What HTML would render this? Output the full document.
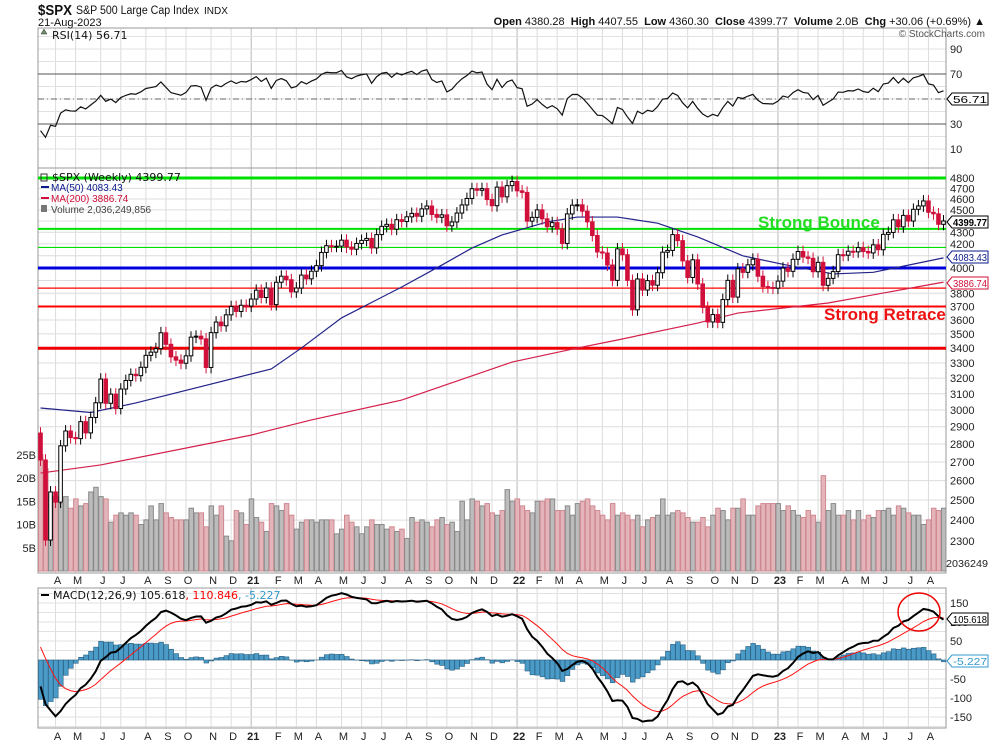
<!DOCTYPE html>
<html><head><meta charset="utf-8"><style>
html,body{margin:0;padding:0;background:#fff;}
svg{display:block;font-family:"Liberation Sans",sans-serif;}
</style></head><body>
<svg id="c" width="990" height="744" viewBox="0 0 990 744"></svg>
<script>
// ---- data ----
const firstOpen = 2863;
const closes = [2711,2305,2541,2489,2790,2875,2837,2831,2930,2864,
2955,3044,3194,3041,3098,3009,3130,3185,3225,3216,
3271,3351,3373,3397,3508,3427,3341,3319,3298,3348,
3477,3484,3465,3270,3509,3585,3558,3638,3699,3663,
3709,3703,3756,
3824,3768,3841,3714,3886,3934,3906,3811,3841,3943,
3913,3974,4019,4128,4185,4180,4181,4232,4173,4155,
4204,4230,4247,4166,4280,4352,4370,4327,4411,4395,
4437,4468,4442,4509,4535,4458,4433,4455,4357,4391,
4471,4545,4605,4697,4682,4698,4595,4538,4712,4620,
4726,4766,
4677,4662,4398,4432,4500,4419,4349,4385,4329,4204,
4463,4543,4546,4488,4392,4272,4132,4123,4024,3901,
4158,4109,3901,3675,3912,3825,3899,3863,3962,4130,
4145,4280,4228,4058,3924,4067,3873,3693,3586,3640,
3583,3752,3901,3771,3993,3965,4026,4072,3934,3852,
3845,3840,
3895,3999,3973,4071,4136,4090,4079,3970,4046,3862,
3917,3971,4109,4105,4138,4133,4169,4136,4124,4192,
4151,4282,4299,4410,4348,4450,4399,4505,4536,4582,
4478,4464,4370,4400];
const volumes = [25,22,16,16,14.5,16,13.5,15.5,14,14.5,
17,18,16,15.5,10.5,12,12.5,12,12.5,12,
10,11,14,11,14.5,12.5,11.5,11,11,11,
13.5,12.5,12.5,9.5,14,12,14,7.5,6.5,13,
12.5,10,15.5,11.5,10.5,8.5,14.5,14,13,14.5,
12,9,10.5,11,11,10.5,11,11,11,8,
9,12,10.5,9.5,8,9.5,11,10,10,9,
9.5,8.5,9,7,11.5,10.5,11,10.5,9.5,11,
11.5,10,10.5,8.5,15,11,15.5,15,14,14.5,
12.5,12,13,17.5,15,15.5,14,13,12.5,15,
15,15.5,15.5,13,13,14,12,14.5,15,15.5,
14,13,12,11,14.5,12,12.5,12,11,12,
9.5,11,11.5,12,15.5,12,12.5,13,12.5,11.5,
10.5,10.5,11.5,9.5,12,13.5,13,11,13.5,13.5,
15.5,12,12,14,14.5,14.5,14.5,14.5,13,14,
13,12,11.5,13,12,10.5,20.5,13,14.5,12,
12,13,11,13,11,12,11.5,13,13,13.5,
12,14,13.5,12.5,12,12,10,11,13.5,13,
13.5];
const ma50Weeks = [0,10,19,46,52,60,72,80,86,92,101,107,115,123,131,140,148,158,166,180];
const ma50Vals  = [3012,2985,3043,3260,3401,3615,3849,4024,4165,4277,4391,4435,4435,4380,4260,4100,4030,3952,3965,4083];
const ma200Weeks = [0,12,42,46,54,72,94,107,115,131,139,157,180];
const ma200Vals  = [2640,2684,2851,2881,2940,3061,3306,3401,3457,3578,3651,3726,3887];
const priceTicks = [4800,4700,4600,4500,4400,4300,4200,4100,4000,3900,3800,3700,3600,3500,3400,3300,3200,3100,3000,2900,2800,2700,2600,2500,2400,2300];
const levelPrices = [4800,4330,4170,4000,3840,3700,3400];
const rsiTicks = [90,70,30,10];
const macdTicks = [150,100,50,-50,-100,-150];
const volTicks = [25,20,15,10,5];

// ---- geometry ----
const S = document.getElementById('c');
const NS = 'http://www.w3.org/2000/svg';
const L = 38, R = 946, N = closes.length, STEP = (R - L) / N;
const X = i => L + (i + 0.5) * STEP;
const PY = p => 178 + 493.6 * Math.log(4800 / p);
const RY = v => 99 - (v - 50) * 1.25;
const MY = v => 660 - v * 0.38;
const VY = v => 571 - v * 4.65;
function mk(tag, attrs, parent) {
  const e = document.createElementNS(NS, tag);
  for (const k in attrs) e.setAttribute(k, attrs[k]);
  (parent || S).appendChild(e);
  return e;
}
function txt(x, y, s, attrs, parent) {
  const t = mk('text', Object.assign({x: x, y: y}, attrs || {}), parent);
  t.textContent = s;
  return t;
}

const panels = [[28,168],[168,573],[588,728]];
const defs = mk('defs', {});
[['cr',28,140],['cp',168,405],['cm',588,140]].forEach(a => {
  const cp = mk('clipPath', {id: a[0]}, defs);
  mk('rect', {x: L, y: a[1], width: R - L, height: a[2]}, cp);
});

// ---- vertical month grid ----
const monthLetters = ['J','F','M','A','M','J','J','A','S','O','N','D'];
const start = new Date(2020, 2, 13);
let prevM = start.getMonth();
const gGrid = mk('g', {});


for (let i = 1; i < N; i++) {
  const d = new Date(start.getTime() + i * 7 * 86400000);
  const m = d.getMonth();
  if (m !== prevM) {
    const x = X(i);
    const yr = m === 0;
    const col = yr ? '#b8b8b8' : '#dcdcdc';
    mk('line', {x1: x, y1: 28, x2: x, y2: 573, stroke: col, 'stroke-width': 1}, gGrid);
    mk('line', {x1: x, y1: 588, x2: x, y2: 728, stroke: col, 'stroke-width': 1}, gGrid);
    const lab = yr ? String(d.getFullYear()).slice(2) : monthLetters[m];
    const a = {'font-size': 11, 'text-anchor': 'middle', fill: '#222'};
    if (yr) a['font-weight'] = 'bold';
    const t1 = txt(x + 2, 584, lab, a);
    
    
    const t2 = txt(x + 2, 740, lab, a);
    
    
  }
  prevM = m;
}

for (let v = 10; v <= 100; v += 10) {
  if (RY(v) > 29 && RY(v) < 167) mk('line', {x1: L, y1: RY(v), x2: R, y2: RY(v), stroke: '#e2e2e2'}, gGrid);
}
priceTicks.forEach(p => mk('line', {x1: L, y1: PY(p), x2: R, y2: PY(p), stroke: '#dcdcdc'}, gGrid));
for (let v = -175; v <= 175; v += 25) {
  if (MY(v) > 589 && MY(v) < 727) mk('line', {x1: L, y1: MY(v), x2: R, y2: MY(v), stroke: '#e2e2e2'}, gGrid);
}

panels.forEach(p => {
  const r = mk('rect', {x: L, y: p[0], width: R - L, height: p[1] - p[0], fill: 'none', stroke: '#999', 'stroke-width': 1});
  
  
});
mk('line', {x1: L, y1: 573, x2: R, y2: 573, stroke: '#999', 'stroke-dasharray': '1,2'});

// ---- RSI ----
const gR = mk('g', {'clip-path': 'url(#cr)'});


mk('line', {x1: L, y1: RY(70), x2: R, y2: RY(70), stroke: '#555'}, gR);
mk('line', {x1: L, y1: RY(30), x2: R, y2: RY(30), stroke: '#555'}, gR);
mk('line', {x1: L, y1: RY(50), x2: R, y2: RY(50), stroke: '#666', 'stroke-dasharray': '6,3,1,3'}, gR);
let ag = 30, al = 80, prev = firstOpen;
const rsi = [];
closes.forEach(c => {
  const ch = c - prev; prev = c;
  ag = (ag * 13 + Math.max(ch, 0)) / 14;
  al = (al * 13 + Math.max(-ch, 0)) / 14;
  rsi.push(100 - 100 / (1 + ag / al));
});
const rp = mk('polyline', {points: rsi.map((v, i) => X(i) + ',' + RY(v)).join(' '), fill: 'none', stroke: '#111', 'stroke-width': 1.2}, gR);


const rl = txt(52, 39, 'RSI(14) 56.71', {'font-size': 11, 'font-family': 'DejaVu Sans, sans-serif', fill: '#111'});


mk('path', {d: 'M41 34 l3 -5 l3 5 z', fill: '#6b8f6b', stroke: '#333', 'stroke-width': 0.5});
rsiTicks.forEach(v => {
  const t = txt(950, RY(v) + 4, String(v), {'font-size': 11, fill: '#222'});
  
  
});

// ---- price panel ----
const gP = mk('g', {'clip-path': 'url(#cp)'});


volumes.forEach((v, i) => {
  const c = closes[i], pc = i ? closes[i - 1] : firstOpen;
  const down = c < pc;
  const b = mk('rect', {x: X(i) - STEP / 2 + 0.5, y: VY(v), width: STEP - 0.5, height: 571 - VY(v),
    fill: down ? '#e3b5bb' : '#bcbcbc', stroke: down ? '#d08890' : '#8a8a8a', 'stroke-width': 1}, gP);
  
  
});
const levelStyle = [['#00e000',3],['#00e000',2],['#00e000',1.2],['#0000dd',3],['#ff0000',1.2],['#ff0000',2],['#ee0000',3]];
levelPrices.forEach((p, k) => {
  const l = mk('line', {x1: L, y1: PY(p), x2: R, y2: PY(p), stroke: levelStyle[k][0], 'stroke-width': levelStyle[k][1]}, gP);
  
  
});
const ma50 = mk('polyline', {points: ma50Weeks.map((w, k) => X(w) + ',' + PY(ma50Vals[k])).join(' '), fill: 'none', stroke: '#22238a', 'stroke-width': 1.2}, gP);


const ma200 = mk('polyline', {points: ma200Weeks.map((w, k) => X(w) + ',' + PY(ma200Vals[k])).join(' '), fill: 'none', stroke: '#d4204a', 'stroke-width': 1.2}, gP);


closes.forEach((c, i) => {
  const o = i ? closes[i - 1] : firstOpen;
  const up = c >= o;
  const hi = Math.max(o, c) * 1.012, lo = Math.min(o, c) * 0.988;
  const col = up ? '#000' : '#d0103a';
  const x = X(i);
  const w = mk('line', {x1: x, y1: PY(hi), x2: x, y2: PY(lo), stroke: col, 'stroke-width': 1}, gP);
  
  
  const top = PY(Math.max(o, c)), bot = PY(Math.min(o, c));
  const b = mk('rect', {x: x - 1.8, y: top, width: 3.6, height: Math.max(bot - top, 1),
    fill: up ? '#fff' : '#d0103a', stroke: up ? '#000' : '#d0103a', 'stroke-width': 1}, gP);
  
  
});
const sb = txt(758, 228, 'Strong Bounce', {'font-size': 17, 'font-weight': 'bold', fill: '#22dd22'});


const sr = txt(824, 320, 'Strong Retrace', {'font-size': 17, 'font-weight': 'bold', fill: '#ee1111'});


const lg = mk('g', {});


txt(52, 181, '$SPX (Weekly) 4399.77', {'font-size': 11, 'font-family': 'DejaVu Sans, sans-serif', fill: '#111'}, lg);
mk('rect', {x: 41, y: 174, width: 6, height: 7, fill: 'none', stroke: '#333'}, lg);
mk('line', {x1: 41, y1: 187, x2: 49, y2: 187, stroke: '#0a1a8a', 'stroke-width': 2}, lg);
txt(51, 191, 'MA(50) 4083.43', {'font-size': 10, fill: '#0a1a8a'}, lg);
mk('line', {x1: 41, y1: 198, x2: 49, y2: 198, stroke: '#d0103a', 'stroke-width': 2}, lg);
txt(51, 202, 'MA(200) 3886.74', {'font-size': 10, fill: '#d0103a'}, lg);
mk('rect', {x: 41, y: 205, width: 6, height: 7, fill: '#777'}, lg);
txt(51, 213, 'Volume 2,036,249,856', {'font-size': 10, fill: '#444'}, lg);
priceTicks.forEach(p => {
  const t = txt(950, PY(p) + 4, String(p), {'font-size': 11, fill: '#222'});
  
  
});
volTicks.forEach(v => {
  const t = txt(36, VY(v) + 4, v + 'B', {'font-size': 11, fill: '#222', 'text-anchor': 'end'});
  
  
});
function tag(y, s, col, bold, name) {
  const g = mk('g', {});
  
  
  mk('path', {d: 'M947 ' + y + ' l5 -6 h36 v12 h-36 z', fill: '#fff', stroke: col, 'stroke-width': 1}, g);
  const a = {'font-size': 10.5, fill: col, textLength: 34, lengthAdjust: 'spacingAndGlyphs'};
  if (bold) a['font-weight'] = 'bold';
  txt(953, y + 4, s, a, g);
}
[[222],[257],[283],[99],[619],[661]].forEach(a => mk('rect', {x: 947, y: a[0] - 7, width: 43, height: 14, fill: '#fff'}));
tag(222, '4399.77', '#000', true, 'last-price-tag');
tag(257, '4083.43', '#0a1a8a', false, 'ma50-value-tag');
tag(283, '3886.74', '#d0103a', false, 'ma200-value-tag');
tag(99, '56.71', '#000', false, 'rsi-value-tag');
const vt = txt(946, 567, '2036249', {'font-size': 10.5, fill: '#222', textLength: 42, lengthAdjust: 'spacingAndGlyphs'});



// ---- MACD ----
const gM = mk('g', {'clip-path': 'url(#cm)'});


let e12 = 3000, e26 = 3050, sig = 60;
const macd = [], signal = [];
closes.forEach(c => {
  e12 += (c - e12) * 2 / 13;
  e26 += (c - e26) * 2 / 27;
  const m = e12 - e26;
  sig += (m - sig) * 0.2;
  macd.push(m); signal.push(sig);
});
macd.forEach((m, i) => {
  const h = m - signal[i];
  const y0 = MY(0), y1 = MY(h);
  const b = mk('rect', {x: X(i) - STEP / 2 + 0.4, y: Math.min(y0, y1), width: STEP - 0.3, height: Math.abs(y1 - y0),
    fill: '#4a9bc8', stroke: '#2a5f80', 'stroke-width': 0.6}, gM);
  
  
});
const sl = mk('polyline', {points: signal.map((v, i) => X(i) + ',' + MY(v)).join(' '), fill: 'none', stroke: '#ff1010', 'stroke-width': 1}, gM);


const ml = mk('polyline', {points: macd.map((v, i) => X(i) + ',' + MY(v)).join(' '), fill: 'none', stroke: '#000', 'stroke-width': 2}, gM);


const ml2 = mk('g', {});


mk('line', {x1: 41, y1: 595, x2: 49, y2: 595, stroke: '#000', 'stroke-width': 2}, ml2);
const mt = txt(53, 599, '', {'font-size': 11, 'font-family': 'DejaVu Sans, sans-serif'}, ml2);
[['MACD(12,26,9) 105.618','#111'],[', 110.846','#f00'],[', -5.227','#39c']].forEach(a => {
  const ts = mk('tspan', {fill: a[1]}, mt); ts.textContent = a[0];
});
macdTicks.forEach(v => {
  const t = txt(950, MY(v) + 4, String(v), {'font-size': 11, fill: '#222'});
  
  
});
tag(619, '105.618', '#000', false, 'macd-value-tag');
tag(661, '-5.227', '#39c', false, 'histogram-value-tag');
const circ = mk('ellipse', {cx: 919, cy: 612, rx: 21, ry: 19, fill: 'none', stroke: '#ee0000', 'stroke-width': 1.5});



// ---- header ----
const hd = mk('g', {});


txt(38, 15, '$SPX', {'font-size': 15, 'font-weight': 'bold', fill: '#111', textLength: 34, lengthAdjust: 'spacingAndGlyphs'}, hd);
txt(76, 14, 'S&P 500 Large Cap Index', {'font-size': 11.5, fill: '#111', textLength: 123, lengthAdjust: 'spacingAndGlyphs'}, hd);
txt(204, 14, 'INDX', {'font-size': 10, fill: '#111'}, hd);
txt(38, 26, '21-Aug-2023', {'font-size': 11, fill: '#111'}, hd);
const q = txt(985, 25, '', {'font-size': 11, 'text-anchor': 'end', fill: '#111'}, hd);
[['Open ',1],['4380.28  ',0],['High ',1],['4407.55  ',0],['Low ',1],['4360.30  ',0],['Close ',1],['4399.77  ',0],['Volume ',1],['2.0B  ',0],['Chg ',1],['+30.06 (+0.69%) \u25B2',0]].forEach(a => {
  const ts = mk('tspan', a[1] ? {'font-weight': 'bold'} : {}, q); ts.textContent = a[0];
});
q.setAttribute('style', 'white-space:pre');
txt(985, 37, '\u00A9 StockCharts.com', {'font-size': 10, 'text-anchor': 'end', fill: '#555'}, hd);
</script>
</body></html>
